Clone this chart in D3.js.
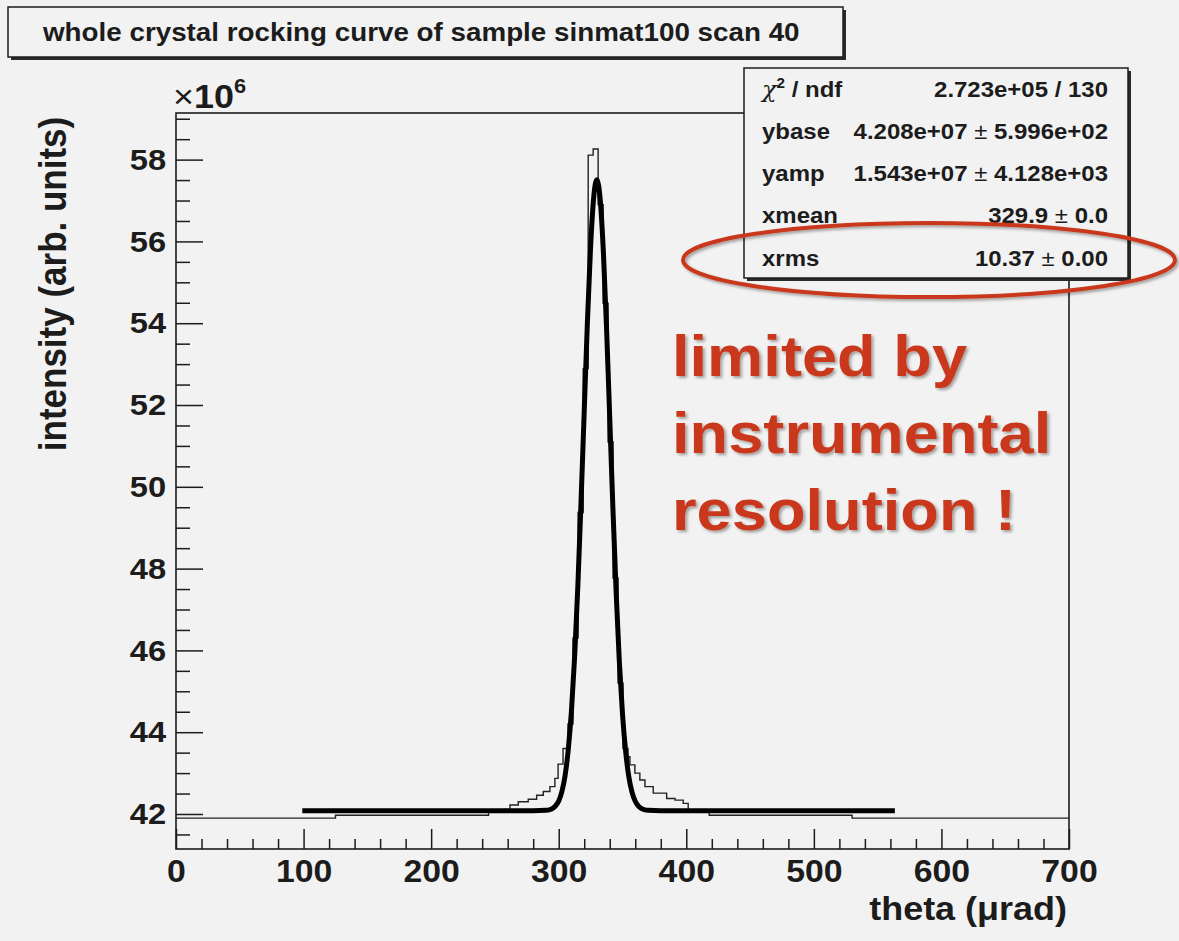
<!DOCTYPE html>
<html><head><meta charset="utf-8">
<script src="https://cdn.jsdelivr.net/npm/d3@7"></script>
<style>
html,body{margin:0;padding:0;background:#f2f2f2;}
svg{display:block;}
text{font-family:"Liberation Sans",Arial,Helvetica,sans-serif;}
</style></head>
<body>
<svg id="chart" width="1179" height="941"></svg>
<script>
// ---------------- data ----------------
const titleText = "whole crystal rocking curve of sample sinmat100 scan 40";
const xTickLabels = [0, 100, 200, 300, 400, 500, 600, 700];
const yTickLabels = [42, 44, 46, 48, 50, 52, 54, 56, 58];
const xLabel = "theta (\u03bcrad)";
const yLabel = "intensity (arb. units)";
// histogram (thin line): bin edges (theta, µrad) and contents (×10^6)
const histEdges = [0,125,245,256.5,261.8,268.3,276.1,282.7,287.9,293.1,297.0,299.5,303.4,307.3,311.2,315.2,319.2,323.1,327.0,330.9,334.8,338.7,342.6,346.5,350.4,354.3,355.8,359.7,363.6,367.6,374.1,384.6,391.2,397.6,401.5,418,530,700];
const histValues = [41.90,41.97,42.05,42.11,42.22,42.30,42.36,42.46,42.55,42.67,42.87,43.22,43.60,44.20,46.30,49.37,52.89,58.11,58.26,56.90,54.49,51.10,47.77,45.20,43.60,43.40,43.20,43.00,42.83,42.67,42.51,42.38,42.34,42.26,42.06,41.97,41.90];
// fitted curve (thick line)
const fitTheta = [99,280,290,292.5,295,297.5,300,302.5,305,307.5,310,312.5,315,317.5,320,322.5,325,327.5,329.9,332.5,335,337.5,340,342.5,345,347.5,350,352.5,355,357.5,360,362.5,365,367.5,370,380,563.5];
const fitIntensity = [42.08,42.08,42.09,42.10,42.13,42.20,42.32,42.55,42.94,43.58,44.53,45.86,47.58,49.63,51.86,54.04,55.88,57.10,57.51,57.03,55.75,53.88,51.68,49.46,47.43,45.74,44.44,43.52,42.90,42.53,42.31,42.19,42.13,42.10,42.09,42.08,42.08];
// stats box
const statsLabels = ["chi", "ybase", "yamp", "xmean", "xrms"];
const statsValues = ["2.723e+05 / 130", "4.208e+07 \u00b1 5.996e+02", "1.543e+07 \u00b1 4.128e+03", "329.9 \u00b1 0.0", "10.37 \u00b1 0.00"];
const noteLines = ["limited by", "instrumental", "resolution !"];

// ---------------- layout ----------------
const svg = d3.select("#chart");
const SX = 1.09; // horizontal stretch of the original picture
const frame = {l:176, r:1069, t:113, b:849};
const ink = "#1c1c1c";
const red = "#c9391a";

const x = d3.scaleLinear().domain([0, 700]).range([frame.l, frame.r]);
const y = d3.scaleLinear().domain([41.144, 59.14]).range([frame.b, frame.t]);

svg.append("rect").attr("width",1179).attr("height",941).attr("fill","#f2f2f2");

const defs = svg.append("defs");
defs.append("clipPath").attr("id","clip").append("rect")
  .attr("x",frame.l).attr("y",frame.t).attr("width",frame.r-frame.l).attr("height",frame.b-frame.t);
const f = defs.append("filter").attr("id","shadow").attr("x","-10%").attr("y","-20%").attr("width","130%").attr("height","150%");
f.append("feDropShadow").attr("dx",2).attr("dy",2).attr("stdDeviation",1.6).attr("flood-color","#000").attr("flood-opacity",0.35);

function stext(g, tx, ty, str, size, opts={}) {
  const t = g.append("text")
    .attr("transform", `translate(${tx},${ty}) scale(${SX},1)`)
    .attr("font-size", size)
    .attr("font-weight", opts.weight || "bold")
    .attr("fill", opts.fill || ink)
    .attr("text-anchor", opts.anchor || "start")
    .text(str);
  return t;
}

// title box
svg.append("rect").attr("x",11).attr("y",10).attr("width",835).attr("height",50).attr("fill","#2a2a2a");
svg.append("rect").attr("x",8).attr("y",7).attr("width",835).attr("height",50).attr("fill","#f2f2f2").attr("stroke",ink).attr("stroke-width",1.5);
stext(svg, 43, 41, titleText, 25.5);

// axes ticks
const xMinor = d3.range(0, 701, 20).filter(v => v % 100 !== 0);
const yMinor = d3.range(41.5, 59.01, 0.5).filter(v => Math.abs(v/2 - Math.round(v/2)) > 1e-6);

function styleAxis(g) {
  g.select(".domain").remove();
  g.selectAll("line").attr("stroke", ink).attr("stroke-width", 1.5);
}
svg.append("g").attr("transform",`translate(0,${frame.b})`)
  .call(d3.axisBottom(x).tickValues(xMinor).tickSize(-10).tickFormat(""))
  .call(styleAxis);
const xa = svg.append("g").attr("transform",`translate(0,${frame.b})`)
  .call(d3.axisBottom(x).tickValues(xTickLabels).tickSize(-20).tickPadding(11).tickFormat(d3.format("d")))
  .call(styleAxis);
xa.selectAll("text").attr("font-size",31).attr("font-weight","bold").attr("fill",ink)
  .attr("font-family",'"Liberation Sans",Arial,sans-serif').attr("transform",`scale(${SX},1)`);

svg.append("g").attr("transform",`translate(${frame.l},0)`)
  .call(d3.axisLeft(y).tickValues(yMinor).tickSize(-14).tickFormat(""))
  .call(styleAxis);
const ya = svg.append("g").attr("transform",`translate(${frame.l},0)`)
  .call(d3.axisLeft(y).tickValues(yTickLabels).tickSize(-27).tickPadding(9).tickFormat(d3.format("d")))
  .call(styleAxis);
ya.selectAll("text").attr("font-size",30).attr("font-weight","bold").attr("fill",ink)
  .attr("font-family",'"Liberation Sans",Arial,sans-serif').attr("transform",`scale(${SX},1)`);

// frame
svg.append("rect").attr("x",frame.l).attr("y",frame.t).attr("width",frame.r-frame.l).attr("height",frame.b-frame.t)
  .attr("fill","none").attr("stroke",ink).attr("stroke-width",1.6);

// histogram
const plot = svg.append("g").attr("clip-path","url(#clip)");
const histPts = histEdges.map((e,i) => [e, histValues[Math.min(i, histValues.length-1)]]);
plot.append("path").datum(histPts)
  .attr("d", d3.line().x(d => x(d[0])).y(d => y(d[1])).curve(d3.curveStepAfter))
  .attr("fill","none").attr("stroke","#222").attr("stroke-width",1.4);

// fit
const fitPts = fitTheta.map((t,i) => [t, fitIntensity[i]]);
plot.append("path").datum(fitPts)
  .attr("d", d3.line().x(d => x(d[0])).y(d => y(d[1])).curve(d3.curveMonotoneX))
  .attr("fill","none").attr("stroke","#000").attr("stroke-width",5).attr("stroke-linejoin","round");

// ×10^6
const exp = svg.append("text").attr("transform",`translate(173,108) scale(${SX},1)`).attr("fill",ink).attr("font-size",33);
exp.append("tspan").text("\u00d7").attr("font-weight","normal");
exp.append("tspan").text("10").attr("font-weight","bold");
exp.append("tspan").text("6").attr("font-weight","bold").attr("font-size",20).attr("dy",-15);

// axis titles
stext(svg, 1067, 920, xLabel, 33, {anchor:"end"});
svg.append("text").attr("transform",`translate(66,284) rotate(-90) scale(1,${SX})`)
  .attr("font-size",35).attr("font-weight","bold").attr("fill",ink).attr("text-anchor","middle").text(yLabel);

// stats box
const sb = {x:744, y:68, w:384, h:210};
svg.append("rect").attr("x",sb.x+3).attr("y",sb.y+3).attr("width",sb.w).attr("height",sb.h).attr("fill","#2a2a2a");
svg.append("rect").attr("x",sb.x).attr("y",sb.y).attr("width",sb.w).attr("height",sb.h).attr("fill","#f2f2f2").attr("stroke",ink).attr("stroke-width",1.5);
statsLabels.forEach((lab,i) => {
  const by = 96.5 + 42.3*i;
  if (lab === "chi") {
    const t = svg.append("text").attr("transform",`translate(762,${by}) scale(${SX},1)`).attr("font-size",22).attr("font-weight","bold").attr("fill",ink);
    t.append("tspan").text("\u03c7").attr("font-weight","normal").attr("font-family",'"DejaVu Serif",serif').attr("font-style","italic");
    t.append("tspan").text("2").attr("font-size",14).attr("dy",-9);
    t.append("tspan").text(" / ndf").attr("dy",9);
  } else {
    stext(svg, 762, by, lab, 22);
  }
  const v = statsValues[i];
  const t = svg.append("text").attr("transform",`translate(1108,${by}) scale(${SX},1)`).attr("font-size",22).attr("font-weight","bold").attr("fill",ink).attr("text-anchor","end");
  v.split(/(\u00b1)/).forEach(part => {
    const ts = t.append("tspan").text(part);
    if (part === "\u00b1") ts.attr("font-weight","normal");
  });
});

// red note text
noteLines.forEach((ln,i) => {
  stext(svg, 672, 376 + 77*i, ln, 58, {fill:red}).attr("filter","url(#shadow)");
});

// red ellipse
svg.append("ellipse").attr("cx",929).attr("cy",260).attr("rx",246).attr("ry",37)
  .attr("fill","none").attr("stroke",red).attr("stroke-width",4).attr("filter","url(#shadow)");
</script>
</body></html>
